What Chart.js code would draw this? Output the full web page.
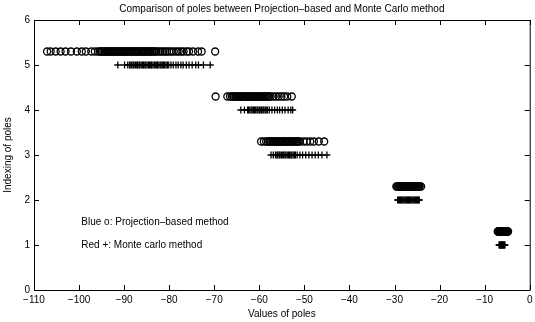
<!DOCTYPE html>
<html>
<head>
<meta charset="utf-8">
<script src="https://cdn.jsdelivr.net/npm/chart.js@4/dist/chart.umd.min.js"></script>
<style>
  html, body { margin: 0; padding: 0; background: #fff; }
  canvas { display: block; }
</style>
</head>
<body>
<canvas id="c" width="535" height="322"></canvas>
<script>
// Pole estimates per mode: projection-based (o) sits 0.3 above its Monte Carlo (+) index
const projLevels = [5.3, 4.3, 3.3, 2.3, 1.3];
const mcLevels   = [5, 4, 3, 2, 1];

const projMode5 = [-107.1,-106.3,-105.2,-104.1,-103.0,-101.8,-100.5,-99.4,-98.5,-97.3,-96.5,-95.8,
  -95.4,-95.1,-94.9,-94.6,-94.3,-94.1,-93.8,-93.5,-93.3,-93.0,-92.7,-92.5,-92.2,-91.9,-91.7,-91.4,
  -91.1,-90.9,-90.6,-90.3,-90.1,-89.8,-89.5,-89.3,-89.0,-88.7,-88.5,-88.2,-87.9,-87.7,-87.4,-87.1,
  -86.9,-86.6,-86.3,-86.1,-85.8,-85.5,-85.3,-85.0,-84.7,-84.5,-84.2,-83.9,-83.7,-83.4,-83.1,-82.8,
  -82.3,-81.9,-81.4,-80.9,-80.5,-80.0,-79.5,-79.0,-78.4,-77.9,-77.3,-76.8,-76.1,-75.6,-74.7,-73.6,-72.8,-69.8];
const mcMode5 = [-91.4,-89.9,-89.2,-88.8,-88.5,-88.3,-88.0,-87.8,-87.5,-87.2,-87.0,-86.7,-86.5,-86.2,
  -85.9,-85.7,-85.4,-85.2,-84.9,-84.6,-84.4,-84.1,-83.9,-83.6,-83.3,-83.1,-82.8,-82.6,-82.3,-82.0,
  -81.8,-81.5,-81.3,-81.0,-80.7,-80.4,-80.1,-79.6,-79.1,-78.5,-78.0,-77.4,-76.9,-76.2,-75.6,-74.9,
  -74.1,-73.5,-72.4,-70.9];

const projMode4 = [-69.7,-67.1,-66.5,-66.1,-65.8,-65.6,-65.3,-65.1,-64.8,-64.5,-64.3,-64.0,-63.8,
  -63.5,-63.2,-63.0,-62.7,-62.5,-62.2,-61.9,-61.7,-61.4,-61.2,-60.9,-60.6,-60.4,-60.1,-59.9,-59.6,
  -59.3,-59.1,-58.8,-58.6,-58.3,-58.0,-57.8,-57.5,-56.9,-56.3,-55.7,-55.1,-54.5,-53.8,-52.8];
const mcMode4 = [-64.1,-63.3,-62.6,-62.4,-62.1,-61.8,-61.6,-61.3,-61.1,-60.8,-60.5,-60.3,-60.0,
  -59.8,-59.5,-59.2,-59.0,-58.7,-58.5,-58.2,-57.8,-57.2,-56.6,-56.0,-55.5,-54.9,-54.3,-53.6,-53.0,-52.6];

const projMode3 = [-59.6,-59.0,-58.5,-58.1,-57.8,-57.6,-57.3,-57.0,-56.8,-56.5,-56.2,-56.0,-55.7,
  -55.5,-55.2,-54.9,-54.7,-54.4,-54.1,-53.9,-53.6,-53.4,-53.1,-52.8,-52.6,-52.3,-52.0,-51.8,-51.5,
  -51.3,-51.0,-50.2,-49.5,-48.7,-47.9,-46.8,-45.6];
const mcMode3 = [-57.4,-56.9,-56.4,-56.1,-55.9,-55.6,-55.4,-55.1,-54.8,-54.6,-54.3,-54.1,-53.8,
  -53.5,-53.3,-53.0,-52.8,-52.5,-52.2,-52.0,-51.6,-51.0,-50.4,-49.7,-49.0,-48.3,-47.6,-46.9,-46.1,-45.0];

const projMode2 = [-29.6,-29.4,-29.2,-29.0,-28.8,-28.6,-28.4,-28.2,-28.0,-27.8,-27.6,-27.4,-27.2,
  -27.0,-26.8,-26.6,-26.4,-26.2,-26.0,-25.8,-25.6,-25.4,-25.2,-25.0,-24.8,-24.6,-24.4,-24.1];
const mcMode2 = [-29.3,-29.1,-28.9,-28.7,-28.5,-28.3,-28.1,-27.9,-27.7,-27.5,-27.3,-27.1,-26.9,
  -26.7,-26.5,-26.3,-26.1,-25.9,-25.7,-25.5,-25.3,-25.1,-24.9,-24.7,-24.5];

const projMode1 = [-7.1,-7.0,-6.9,-6.8,-6.7,-6.6,-6.5,-6.4,-6.3,-6.2,-6.1,-6.0,-5.9,-5.8,-5.7,
  -5.6,-5.5,-5.4,-5.3,-5.2,-5.1,-5.0,-4.9,-4.8];
const mcMode1 = [-6.8,-6.7,-6.6,-6.5,-6.4,-6.3,-6.2,-6.1,-6.0,-5.9,-5.8,-5.7,-5.6,-5.5];

const xTicks = [-110,-100,-90,-80,-70,-60,-50,-40,-30,-20,-10,0];
const yTicks = [0,1,2,3,4,5,6];

const titleText = 'Comparison of poles between Projection\u2013based and Monte Carlo method';
const notes = [
  { x: -99.5, y: 1.5, text: 'Blue o: Projection\u2013based method' },
  { x: -99.5, y: 1.0, text: 'Red +: Monte carlo method' }
];

const FONT = '"Liberation Sans", Arial, Helvetica, sans-serif';
const projGroups = [projMode5, projMode4, projMode3, projMode2, projMode1];
const mcGroups = [mcMode5, mcMode4, mcMode3, mcMode2, mcMode1];

function toPoints(groups, levels) {
  const pts = [];
  groups.forEach((g, i) => g.forEach(v => pts.push({ x: v, y: levels[i] })));
  return pts;
}
const fmt = v => (v < 0 ? '\u2212' + Math.abs(v) : String(v));

// Frame with inward ticks on all four sides, the title and the in-plot notes
const framePlugin = {
  id: 'frame',
  afterDraw(chart) {
    const { ctx, chartArea: a, scales } = chart;
    const xs = scales.x, ys = scales.y;
    ctx.save();
    ctx.strokeStyle = '#000';
    ctx.lineWidth = 1;
    ctx.beginPath();
    ctx.rect(a.left + 0.5, a.top + 0.5, a.right - a.left, a.bottom - a.top);
    const len = 5;
    xTicks.forEach(t => {
      const px = Math.round(xs.getPixelForValue(t)) + 0.5;
      ctx.moveTo(px, a.bottom); ctx.lineTo(px, a.bottom - len);
      ctx.moveTo(px, a.top); ctx.lineTo(px, a.top + len);
    });
    yTicks.forEach(t => {
      const py = Math.round(ys.getPixelForValue(t)) + 0.5;
      ctx.moveTo(a.left, py); ctx.lineTo(a.left + len, py);
      ctx.moveTo(a.right, py); ctx.lineTo(a.right - len, py);
    });
    ctx.stroke();

    ctx.fillStyle = '#000';
    ctx.font = '10px ' + FONT;
    ctx.textAlign = 'center';
    ctx.textBaseline = 'middle';
    ctx.fillText(titleText, (a.left + a.right) / 2, 9);

    ctx.textAlign = 'left';
    notes.forEach(n => ctx.fillText(n.text, xs.getPixelForValue(n.x), ys.getPixelForValue(n.y)));
    ctx.restore();
  }
};

new Chart(document.getElementById('c'), {
  type: 'scatter',
  data: {
    datasets: [
      {
        label: 'Projection-based',
        data: toPoints(projGroups, projLevels),
        pointStyle: 'circle',
        pointRadius: 3.5,
        borderWidth: 1.3,
        borderColor: '#000',
        backgroundColor: 'rgba(0,0,0,0)'
      },
      {
        label: 'Monte Carlo',
        data: toPoints(mcGroups, mcLevels),
        pointStyle: 'cross',
        pointRadius: 3.5,
        borderWidth: 1.3,
        borderColor: '#000',
        backgroundColor: '#000'
      }
    ]
  },
  options: {
    responsive: false,
    animation: false,
    events: [],
    devicePixelRatio: 1,
    layout: { padding: { top: 20, left: 0, right: 0, bottom: 0 } },
    plugins: { legend: { display: false }, tooltip: { enabled: false }, title: { display: false } },
    scales: {
      x: {
        type: 'linear', min: -110, max: 0,
        afterBuildTicks: s => { s.ticks = xTicks.map(v => ({ value: v })); },
        ticks: { callback: fmt, color: '#000', font: { family: FONT, size: 10 }, padding: 4, maxRotation: 0, autoSkip: false },
        grid: { display: false, drawTicks: false },
        border: { display: false },
        title: { display: true, text: 'Values of poles', color: '#000', font: { family: FONT, size: 10 }, padding: { top: 0, bottom: 2 } },
        afterFit: s => { s.height = 32; s.paddingLeft = 0; s.paddingRight = 0; }
      },
      y: {
        type: 'linear', min: 0, max: 6,
        afterBuildTicks: s => { s.ticks = yTicks.map(v => ({ value: v })); },
        ticks: { color: '#000', font: { family: FONT, size: 10 }, padding: 4, autoSkip: false },
        grid: { display: false, drawTicks: false },
        border: { display: false },
        title: { display: true, text: 'Indexing of poles', color: '#000', font: { family: FONT, size: 10 }, padding: { top: 2, bottom: 0 } },
        afterFit: s => { s.width = 34; s.paddingTop = 0; s.paddingBottom = 0; }
      }
    }
  },
  plugins: [framePlugin]
});
</script>
</body>
</html>
